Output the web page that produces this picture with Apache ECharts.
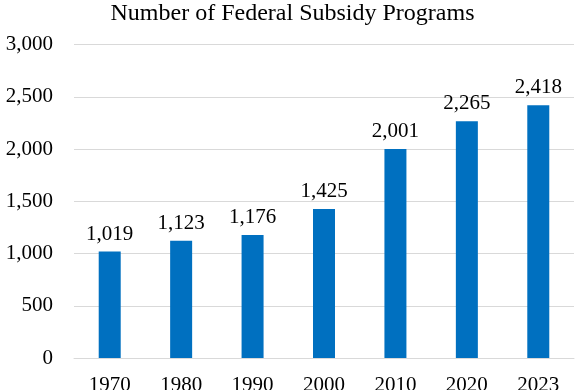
<!DOCTYPE html>
<html><head><meta charset="utf-8">
<script src="https://cdn.jsdelivr.net/npm/echarts@6/dist/echarts.min.js"></script>
<style>html,body{margin:0;padding:0;background:#fff}#c{width:585px;height:390px}</style>
</head><body><div id="c"></div>
<script>
const categories = ['1970','1980','1990','2000','2010','2020','2023'];
const programs = [1019, 1123, 1176, 1425, 2001, 2265, 2418];
const yTicks = [0, 500, 1000, 1500, 2000, 2500, 3000];

const font = '"Liberation Serif", "Times New Roman", serif';
const chart = echarts.init(document.getElementById('c'), null, {renderer: 'canvas'});
chart.setOption({
  animation: false,
  title: {
    text: 'Number of Federal Subsidy Programs',
    left: 'center', top: -3,
    textStyle: {fontFamily: font, fontSize: 24, fontWeight: 'normal', color: '#000'}
  },
  grid: {left: 74, right: 11, top: 44.5, bottom: 32, containLabel: false, outerBoundsMode: 'none'},
  xAxis: {
    type: 'category', data: categories,
    axisLine: {lineStyle: {color: '#d9d9d9', width: 1}},
    axisTick: {show: false},
    axisLabel: {fontFamily: font, fontSize: 21, color: '#000', margin: 17}
  },
  yAxis: {
    type: 'value', min: yTicks[0], max: yTicks[yTicks.length - 1], interval: 500,
    axisLine: {show: false}, axisTick: {show: false},
    splitLine: {lineStyle: {color: '#d9d9d9', width: 1}},
    axisLabel: {
      fontFamily: font, fontSize: 21, color: '#000', margin: 21,
      formatter: v => v.toLocaleString('en-US')
    }
  },
  series: [{
    type: 'bar', data: programs, barWidth: 22,
    itemStyle: {color: '#0070C0'},
    label: {
      show: true, position: 'top', distance: 7,
      fontFamily: font, fontSize: 21, color: '#000',
      formatter: p => p.value.toLocaleString('en-US')
    }
  }]
});
</script></body></html>
